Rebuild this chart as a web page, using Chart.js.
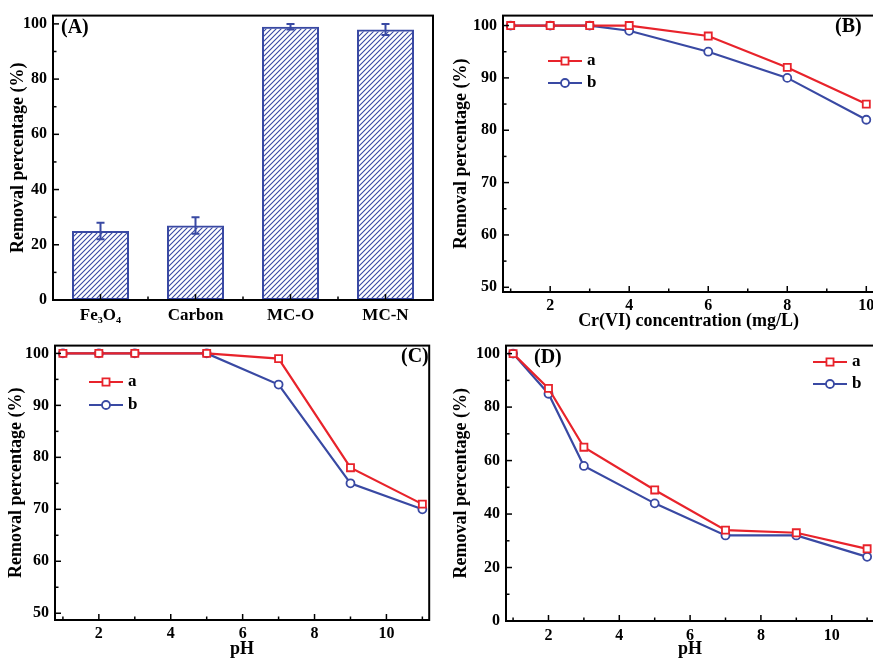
<!DOCTYPE html>
<html>
<head>
<meta charset="utf-8">
<script src="https://cdn.jsdelivr.net/npm/chart.js@4.4.1/dist/chart.umd.min.js"></script>
<style>
html, body { margin: 0; padding: 0; background: #fff; overflow: hidden; width: 873px; height: 658px; }
canvas { position: absolute; }
</style>
</head>
<body>
<canvas id="chartA" width="436" height="330" style="left:0;top:0"></canvas>
<canvas id="chartB" width="445" height="330" style="left:436px;top:0"></canvas>
<canvas id="chartC" width="436" height="328" style="left:0;top:330px"></canvas>
<canvas id="chartD" width="445" height="328" style="left:436px;top:330px"></canvas>
<script>
// (A) removal by material
const materials = ["Fe₃O₄", "Carbon", "MC-O", "MC-N"];
const removal = [25, 27, 99, 98];
const removalErr = [3, 3, 1, 2];

// (B) removal vs Cr(VI) concentration
const concentration = [1, 2, 3, 4, 6, 8, 10];
const concA = [100, 100, 100, 100, 98, 92, 85];
const concB = [100, 100, 100, 99, 95, 90, 82];

// (C) removal vs pH
const phC = [1, 2, 3, 5, 7, 9, 11];
const phCA = [100, 100, 100, 100, 99, 78, 71];
const phCB = [100, 100, 100, 100, 94, 75, 70];

// (D) removal vs pH
const phD = [1, 2, 3, 5, 7, 9, 11];
const phDA = [100, 87, 65, 49, 34, 33, 27];
const phDB = [100, 85, 58, 44, 32, 32, 24];

// tick values
const yTicks100 = [0, 20, 40, 60, 80, 100];
const yMinor100 = [10, 30, 50, 70, 90];
const yTicks50 = [50, 60, 70, 80, 90, 100];
const yMinor50 = [55, 65, 75, 85, 95];
const xTicks = [2, 4, 6, 8, 10];
const xMinor = [1, 3, 5, 7, 9, 11];

const serif = "'Liberation Serif', 'Times New Roman', serif";
const red = "#e8232b";
const blue = "#3949a3";

function font(size, lh) {
    return { family: serif, size: size, weight: "bold", lineHeight: lh || 1.2 };
}

// diagonal hatch for the bars
function hatch() {
    const c = document.createElement("canvas");
    c.width = 5; c.height = 5;
    const g = c.getContext("2d");
    g.strokeStyle = blue;
    g.lineWidth = 1.1;
    g.beginPath();
    g.moveTo(-1, 6); g.lineTo(6, -1);
    g.moveTo(-1, 1); g.lineTo(1, -1);
    g.moveTo(4, 6); g.lineTo(6, 4);
    g.stroke();
    return g.createPattern(c, "repeat");
}

// box frame, inward ticks, panel label and legend
const framePlugin = {
    id: "frame",
    afterDraw(chart, args, opts) {
        const { ctx, chartArea: a, scales } = chart;
        ctx.save();
        ctx.strokeStyle = "#000";
        ctx.lineWidth = 1.5;
        const line = (x1, y1, x2, y2) => { ctx.beginPath(); ctx.moveTo(x1, y1); ctx.lineTo(x2, y2); ctx.stroke(); };
        opts.xMajor.forEach(v => { const x = scales.x.getPixelForValue(v); line(x, a.bottom, x, a.bottom - 6); });
        opts.xMinor.forEach(v => { const x = scales.x.getPixelForValue(v); line(x, a.bottom, x, a.bottom - 3.5); });
        opts.yMajor.forEach(v => { const y = scales.y.getPixelForValue(v); line(a.left, y, a.left + 6, y); });
        opts.yMinor.forEach(v => { const y = scales.y.getPixelForValue(v); line(a.left, y, a.left + 3.5, y); });
        ctx.lineWidth = 2;
        ctx.strokeRect(a.left, a.top, a.width, a.height);

        ctx.fillStyle = "#000";
        ctx.textBaseline = "middle";
        ctx.font = "bold 20px " + serif;
        ctx.fillText(opts.label, opts.labelX, opts.labelY);

        if (opts.legend) {
            const lg = opts.legend;
            chart.data.datasets.forEach((ds, i) => {
                const y = lg.y + i * lg.gap;
                ctx.strokeStyle = ds.borderColor;
                ctx.lineWidth = 2.2;
                line(lg.x, y, lg.x + 34, y);
                ctx.fillStyle = "#fff";
                ctx.lineWidth = ds.pointBorderWidth;
                Chart.helpers.drawPoint(ctx, { pointStyle: ds.pointStyle, radius: ds.pointRadius, borderWidth: ds.pointBorderWidth, rotation: 0 }, lg.x + 17, y);
                ctx.fillStyle = "#000";
                ctx.font = "bold 17px " + serif;
                ctx.fillText(ds.label, lg.x + 39, y);
            });
        }
        ctx.restore();
    }
};

const errorBarPlugin = {
    id: "errorBars",
    afterDatasetsDraw(chart) {
        const { ctx } = chart;
        const y = chart.scales.y;
        const meta = chart.getDatasetMeta(0);
        ctx.save();
        ctx.strokeStyle = blue;
        ctx.lineWidth = 2;
        meta.data.forEach((bar, i) => {
            const hi = y.getPixelForValue(removal[i] + removalErr[i]);
            const lo = y.getPixelForValue(removal[i] - removalErr[i]);
            ctx.beginPath();
            ctx.moveTo(bar.x, hi); ctx.lineTo(bar.x, lo);
            ctx.moveTo(bar.x - 4, hi); ctx.lineTo(bar.x + 4, hi);
            ctx.moveTo(bar.x - 4, lo); ctx.lineTo(bar.x + 4, lo);
            ctx.stroke();
        });
        ctx.restore();
    }
};

function yAxis(min, max, ticks, width, titlePad) {
    return {
        min: min, max: max,
        grid: { display: false, drawTicks: false },
        border: { display: false },
        afterBuildTicks: s => { s.ticks = ticks.map(v => ({ value: v })); },
        afterFit: s => { s.width = width; },
        ticks: { font: font(16), color: "#000", padding: 6, callback: v => v },
        title: { display: true, text: "Removal percentage (%)", font: font(18, 1), color: "#000", padding: { top: titlePad } }
    };
}

function xAxis(min, max, height, pad, title) {
    return {
        type: "linear",
        min: min, max: max,
        grid: { display: false, drawTicks: false },
        border: { display: false },
        afterBuildTicks: s => { s.ticks = xTicks.map(v => ({ value: v })); },
        afterFit: s => { s.height = height; },
        ticks: { font: font(16), color: "#000", padding: pad, callback: v => v },
        title: { display: true, text: title, font: font(18, 1), color: "#000", padding: { top: 0, bottom: 0 } }
    };
}

function series(label, data, xs, color, style) {
    return {
        label: label,
        data: data.map((v, i) => ({ x: xs[i], y: v })),
        borderColor: color,
        backgroundColor: "#fff",
        borderWidth: 2.2,
        pointStyle: style,
        pointRadius: style === "rect" ? 5 : 4,
        pointBorderWidth: 1.8,
        pointBackgroundColor: "#fff",
        pointBorderColor: color,
        tension: 0,
        clip: false
    };
}

Chart.defaults.animation = false;
Chart.defaults.responsive = false;

new Chart(document.getElementById("chartA").getContext("2d"), {
    type: "bar",
    data: {
        labels: materials,
        datasets: [{
            label: "Removal",
            data: removal,
            backgroundColor: hatch(),
            borderColor: blue,
            borderWidth: 2,
            borderSkipped: false,
            categoryPercentage: 1,
            barPercentage: 0.6
        }]
    },
    options: {
        layout: { padding: { left: 0, right: 3, top: 13, bottom: 0 } },
        plugins: {
            legend: { display: false },
            tooltip: { enabled: false },
            frame: { xMajor: [0, 1, 2, 3], xMinor: [0.5, 1.5, 2.5], yMajor: yTicks100, yMinor: yMinor100, label: "(A)", labelX: 61, labelY: 28 }
        },
        scales: {
            x: {
                grid: { display: false, drawTicks: false },
                border: { display: false },
                afterFit: s => { s.height = 30; },
                ticks: { font: font(17), color: "#000", padding: 5 }
            },
            y: yAxis(0, 103, yTicks100, 53, 9)
        }
    },
    plugins: [errorBarPlugin, framePlugin]
});

new Chart(document.getElementById("chartB").getContext("2d"), {
    type: "line",
    data: {
        datasets: [
            series("a", concA, concentration, red, "rect"),
            series("b", concB, concentration, blue, "circle")
        ]
    },
    options: {
        layout: { padding: { left: 0, right: 6, top: 12, bottom: 0 } },
        plugins: {
            legend: { display: false },
            tooltip: { enabled: false },
            frame: { xMajor: xTicks, xMinor: [1, 3, 5, 7, 9], yMajor: yTicks50, yMinor: yMinor50, label: "(B)", labelX: 399, labelY: 27,
                     legend: { x: 112, y: 61, gap: 22 } }
        },
        scales: {
            x: xAxis(0.806, 10.2, 38, 4, "Cr(VI) concentration (mg/L)"),
            y: yAxis(49.1, 101.9, yTicks50, 67, 16)
        }
    },
    plugins: [framePlugin]
});

new Chart(document.getElementById("chartC").getContext("2d"), {
    type: "line",
    data: {
        datasets: [
            series("a", phCA, phC, red, "rect"),
            series("b", phCB, phC, blue, "circle")
        ]
    },
    options: {
        layout: { padding: { left: 0, right: 3, top: 12, bottom: 0 } },
        plugins: {
            legend: { display: false },
            tooltip: { enabled: false },
            frame: { xMajor: xTicks, xMinor: xMinor, yMajor: yTicks50, yMinor: yMinor50, label: "(C)", labelX: 401, labelY: 27,
                     legend: { x: 89, y: 52, gap: 23 } }
        },
        scales: {
            x: xAxis(0.78, 11.19, 38, 4, "pH"),
            y: yAxis(48.7, 101.5, yTicks50, 55, 7)
        }
    },
    plugins: [framePlugin]
});

new Chart(document.getElementById("chartD").getContext("2d"), {
    type: "line",
    data: {
        datasets: [
            series("a", phDA, phD, red, "rect"),
            series("b", phDB, phD, blue, "circle")
        ]
    },
    options: {
        layout: { padding: { left: 0, right: 3, top: 13, bottom: 0 } },
        plugins: {
            legend: { display: false },
            tooltip: { enabled: false },
            frame: { xMajor: xTicks, xMinor: xMinor, yMajor: yTicks100, yMinor: yMinor100, label: "(D)", labelX: 98, labelY: 28,
                     legend: { x: 377, y: 32, gap: 22 } }
        },
        scales: {
            x: xAxis(0.8, 11.2, 37, 5, "pH"),
            y: yAxis(0, 103, yTicks100, 70, 16)
        }
    },
    plugins: [framePlugin]
});
</script>
</body>
</html>
